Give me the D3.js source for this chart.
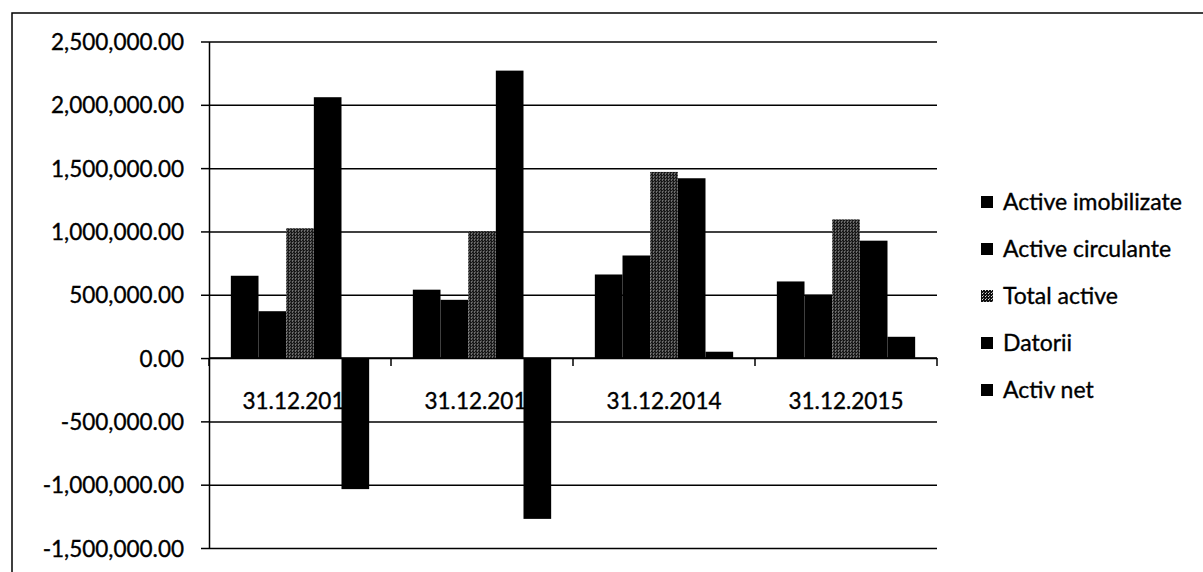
<!DOCTYPE html>
<html>
<head>
<meta charset="utf-8">
<script src="https://cdn.jsdelivr.net/npm/d3@7"></script>
<style>
  body { margin: 0; background: #fff; }
  svg text { font-family: Lato, "Open Sans", sans-serif; fill: #000; stroke: #000; stroke-width: 0.35; }
</style>
</head>
<body>
<div id="chart"></div>
<script>
var categories = ["31.12.2012", "31.12.2013", "31.12.2014", "31.12.2015"];
var seriesNames = ["Active imobilizate", "Active circulante", "Total active", "Datorii", "Activ net"];
var activeImobilizate = [650000, 540000, 660000, 605000];
var activeCirculante  = [370000, 460000, 810000, 500000];
var totalActive       = [1025000, 1000000, 1470000, 1095000];
var datorii           = [2060000, 2270000, 1420000, 927000];
var activNet          = [-1035000, -1270000, 50000, 168000];
var yTicks = [-1500000, -1000000, -500000, 0, 500000, 1000000, 1500000, 2000000, 2500000];

var seriesValues = [activeImobilizate, activeCirculante, totalActive, datorii, activNet];

var margin = {top: 41.5, left: 209, right: 266, bottom: 24};
var W = 1203, H = 572;
var width = W - margin.left - margin.right;
var height = H - margin.top - margin.bottom;

var svg = d3.select("#chart").append("svg").attr("width", W).attr("height", H);

// dotted fill for "Total active"
var defs = svg.append("defs");
var pat = defs.append("pattern").attr("id", "dots").attr("patternUnits", "userSpaceOnUse")
  .attr("width", 3).attr("height", 3);
pat.append("rect").attr("width", 3).attr("height", 3).attr("fill", "#111");
pat.append("rect").attr("x", 1).attr("y", 0).attr("width", 1).attr("height", 1).attr("fill", "#ddd");
pat.append("rect").attr("x", 2).attr("y", 2).attr("width", 1).attr("height", 1).attr("fill", "#999");

var fills = ["#000", "#000", "url(#dots)", "#000", "#000"];

// outer frame (runs off right and bottom)
svg.append("rect").attr("x", 12).attr("y", 13).attr("width", 1300).attr("height", 700)
  .attr("fill", "none").attr("stroke", "#000").attr("stroke-width", 1.5);

var x0 = d3.scaleBand().domain(categories).range([0, width]).paddingInner(0.24).paddingOuter(0.12);
var x1 = d3.scaleBand().domain(seriesNames).range([0, x0.bandwidth()]);
var y = d3.scaleLinear().domain([-1500000, 2500000]).range([height, 0]);

var g = svg.append("g").attr("transform", "translate(" + margin.left + "," + margin.top + ")");

// grid
var grid = d3.axisLeft(y).tickValues(yTicks).tickSize(-width).tickFormat("");
g.append("g").attr("class", "grid").call(grid)
  .call(function(s) { s.select(".domain").remove(); })
  .selectAll("line").attr("stroke", "#000").attr("stroke-width", 1.5);

// y axis (plain hyphen for negatives)
var locale = d3.formatLocale({decimal: ".", thousands: ",", grouping: [3], currency: ["", ""], minus: "-"});
var fmt = locale.format(",.2f");
var yAxis = d3.axisLeft(y).tickValues(yTicks).tickSize(8).tickSizeOuter(0).tickPadding(17).tickFormat(fmt);
var ya = g.append("g").call(yAxis);
ya.select(".domain").attr("stroke", "#000").attr("stroke-width", 1.5);
ya.selectAll(".tick line").attr("stroke", "#000").attr("stroke-width", 1.5);
ya.selectAll("text").attr("font-size", 22.5).attr("dy", "0.36em");

// x axis at zero
var boundaries = [0].concat(categories.map(function(c) { return x0(c) - x0.step() * 0.12 + x0.step(); }));
var xa = g.append("g").attr("transform", "translate(0," + y(0) + ")");
xa.append("line").attr("x1", 0).attr("x2", width).attr("stroke", "#000").attr("stroke-width", 1.5);
xa.selectAll("line.tk").data(boundaries).enter().append("line").attr("class", "tk")
  .attr("x1", function(d) { return d; }).attr("x2", function(d) { return d; })
  .attr("y1", 0).attr("y2", 8).attr("stroke", "#000").attr("stroke-width", 1.5);
xa.selectAll("text").data(categories).enter().append("text")
  .attr("x", function(d) { return x0(d) + x0.bandwidth() / 2; })
  .attr("y", 51)
  .attr("text-anchor", "middle")
  .attr("font-size", 22.5)
  .text(function(d) { return d; });

// bars (drawn over the category labels)
var groups = g.selectAll("g.cat").data(categories).enter().append("g").attr("class", "cat")
  .attr("transform", function(d) { return "translate(" + x0(d) + ",0)"; });
groups.selectAll("rect").data(function(d, i) {
    return seriesNames.map(function(s, j) { return {s: s, j: j, v: seriesValues[j][i]}; });
  }).enter().append("rect")
  .attr("x", function(d) { return x1(d.s); })
  .attr("width", x1.bandwidth())
  .attr("y", function(d) { return y(Math.max(0, d.v)); })
  .attr("height", function(d) { return Math.abs(y(d.v) - y(0)); })
  .attr("fill", function(d) { return fills[d.j]; });

// legend
var legend = svg.append("g").attr("transform", "translate(981,202)");
var items = legend.selectAll("g").data(seriesNames).enter().append("g")
  .attr("transform", function(d, i) { return "translate(0," + (i * 47) + ")"; });
items.append("rect").attr("x", 0).attr("y", -6).attr("width", 12).attr("height", 12)
  .attr("fill", function(d, i) { return fills[i]; });
items.append("text").attr("x", 22).attr("y", 0).attr("dy", "0.36em").attr("font-size", 23)
  .text(function(d) { return d; });
</script>
</body>
</html>
